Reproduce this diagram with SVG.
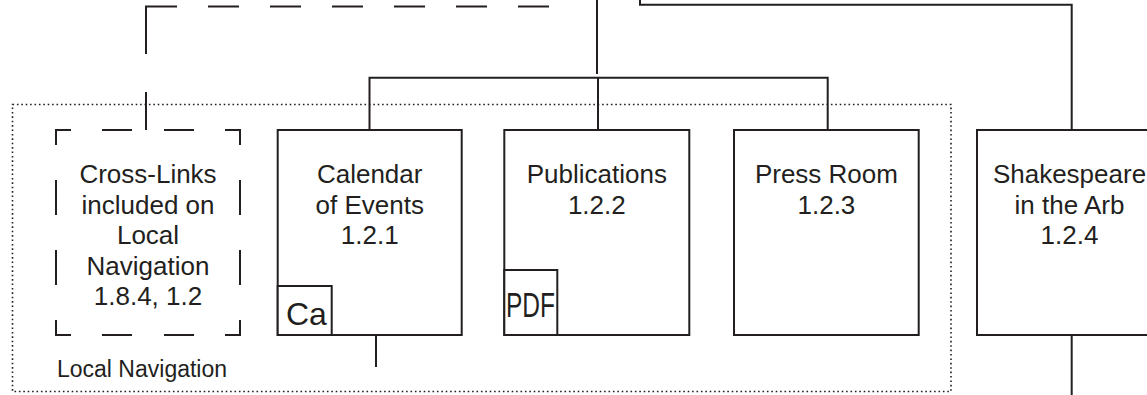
<svg xmlns="http://www.w3.org/2000/svg" width="1147" height="395" viewBox="0 0 1147 395">
<style>
  .box{fill:#fff;stroke:#231f20;stroke-width:2}
  .tag{fill:#fff;stroke:#231f20;stroke-width:2}
  .dash{fill:none;stroke:#231f20;stroke-width:2;stroke-dasharray:30 31 30 32 30 31 30 35 35 35 35 35 30 31 30 32 30 31 30 35 35 35 35 35}
  .line{fill:none;stroke:#231f20;stroke-width:2}
  .dot{fill:none;stroke:#231f20;stroke-width:1.6;stroke-dasharray:1.6 2.8}
  text{font-family:"Liberation Sans",Arial,Helvetica,sans-serif;fill:#231f20}
  .t{font-size:26px;text-anchor:middle}
  .small{font-size:23px}
</style>
<rect width="1147" height="395" fill="#fff"/>
<g id="local-navigation">
  <rect class="dot" x="12.5" y="104.5" width="938.5" height="287"/>
  <text class="small" x="57" y="377">Local Navigation</text>
</g>
<g id="connectors">
  <path class="line" d="M146 130V92M146 54V6.5H177M208 6.5H239M270 6.5H301M332 6.5H363M394 6.5H425M456 6.5H487M518 6.5H549"/>
  <path class="line" d="M597 0V74"/>
  <path class="line" d="M369.5 130V77.7H827.7V130M598 77.7V130"/>
  <path class="line" d="M640 0V4.7H1071.7V130"/>
  <path class="line" d="M376 335V367"/>
  <path class="line" d="M1071.7 335V395"/>
</g>
<g id="cross-links">
  <path class="dash" d="M56 145V130H240V335H56V145"/>
  <text class="t" x="148" y="183">Cross-Links</text>
  <text class="t" x="148" y="213.5">included on</text>
  <text class="t" x="148" y="244">Local</text>
  <text class="t" x="148" y="274.5">Navigation</text>
  <text class="t" x="148" y="305">1.8.4, 1.2</text>
</g>
<g id="calendar">
  <rect class="box" x="277.7" y="130" width="184" height="205"/>
  <text class="t" x="369.7" y="183">Calendar</text>
  <text class="t" x="369.7" y="213.5">of Events</text>
  <text class="t" x="369.7" y="244">1.2.1</text>
  <rect class="tag" x="277.7" y="286" width="54" height="49"/>
  <text x="286" y="325" style="font-size:32px">Ca</text>
</g>
<g id="publications">
  <rect class="box" x="504.3" y="130" width="185" height="205"/>
  <text class="t" x="596.8" y="183">Publications</text>
  <text class="t" x="596.8" y="213.5">1.2.2</text>
  <rect class="tag" x="504.3" y="270" width="53" height="65"/>
  <text x="506" y="317" style="font-size:35px" textLength="49" lengthAdjust="spacingAndGlyphs">PDF</text>
</g>
<g id="press-room">
  <rect class="box" x="734" y="130" width="184.7" height="205"/>
  <text class="t" x="826.4" y="183">Press Room</text>
  <text class="t" x="826.4" y="213.5">1.2.3</text>
</g>
<g id="shakespeare">
  <rect class="box" x="977" y="130" width="185" height="205"/>
  <text class="t" x="1069.5" y="183">Shakespeare</text>
  <text class="t" x="1069.5" y="213.5">in the Arb</text>
  <text class="t" x="1069.5" y="244">1.2.4</text>
</g>
</svg>
